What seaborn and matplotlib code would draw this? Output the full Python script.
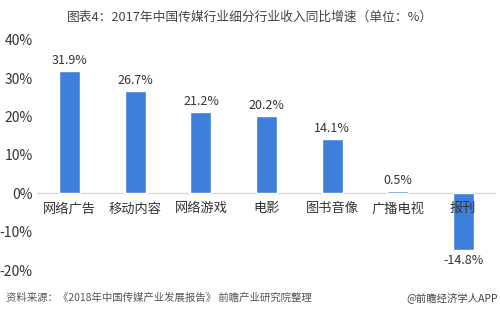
import matplotlib
matplotlib.use("Agg")
import matplotlib.pyplot as plt
import seaborn as sns
import pandas as pd

categories = ["网络广告", "移动内容", "网络游戏", "电影", "图书音像", "广播电视", "报刊"]
growth = [31.9, 26.7, 21.2, 20.2, 14.1, 0.5, -14.8]
value_labels = ["31.9%", "26.7%", "21.2%", "20.2%", "14.1%", "0.5%", "-14.8%"]
y_ticks = [-20, -10, 0, 10, 20, 30, 40]
y_tick_labels = ["-20%", "-10%", "0%", "10%", "20%", "30%", "40%"]

sns.set_theme(style="white")
plt.rcParams["font.family"] = ["Noto Sans CJK SC", "DejaVu Sans"]

df = pd.DataFrame({"cat": categories, "val": growth})

fig = plt.figure(figsize=(5.0, 3.1), dpi=100)
ax = fig.add_axes([0.074, 0.129, 0.918, 0.742])
sns.barplot(data=df, x="cat", y="val", color="#3f7fdc", saturation=1, width=0.32, ax=ax)

ax.set_ylim(-20, 40)
ax.set_xlim(-0.5, len(categories) - 0.5)
ax.set_yticks(y_ticks)
ax.set_yticklabels(y_tick_labels, fontsize=10, color="#333333")
ax.tick_params(axis="y", length=0, pad=3)
ax.set_xticks([])
ax.set_xlabel("")
ax.set_ylabel("")
for s in ax.spines.values():
    s.set_visible(False)
ax.axhline(0, color="#d9d9d9", lw=1, zorder=0)

for i, (v, lab) in enumerate(zip(growth, value_labels)):
    if v >= 0:
        ax.annotate(lab, (i, v), xytext=(0, 3), textcoords="offset points",
                    ha="center", va="bottom", fontsize=9, color="#333333")
    else:
        ax.annotate(lab, (i, v), xytext=(0, -3), textcoords="offset points",
                    ha="center", va="top", fontsize=9, color="#333333")
    ax.annotate(categories[i], (i, 0), xytext=(0, -6.5), textcoords="offset points",
                ha="center", va="top", fontsize=9.5, color="#333333", zorder=5)

fig.text(0.5, 0.945, "图表4：2017年中国传媒行业细分行业收入同比增速（单位：%）",
         ha="center", va="center", fontsize=9.2, color="#444444")
fig.text(0.012, 0.04, "资料来源：《2018年中国传媒产业发展报告》 前瞻产业研究院整理",
         ha="left", va="center", fontsize=7.5, color="#555555", style="italic")
fig.text(0.995, 0.04, "@前瞻经济学人APP", ha="right", va="center",
         fontsize=7.5, color="#444444")

fig.savefig("out.png", dpi=100)
